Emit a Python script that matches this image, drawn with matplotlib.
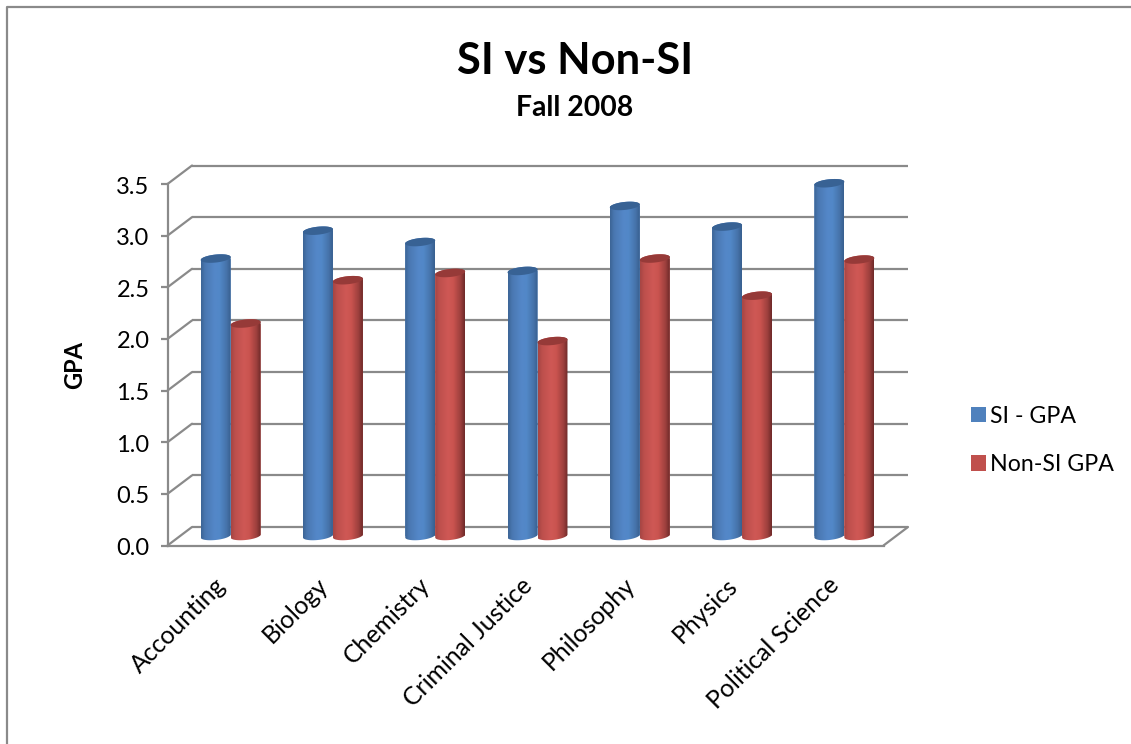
import numpy as np
import matplotlib
matplotlib.use('Agg')
import matplotlib.pyplot as plt
from matplotlib.lines import Line2D
from matplotlib.patches import ConnectionPatch, Patch, Polygon
from matplotlib.transforms import ScaledTranslation

plt.rcParams['font.family'] = ['Lato', 'DejaVu Sans']

W, H = 1131, 744

categories = ['Accounting', 'Biology', 'Chemistry', 'Criminal Justice',
              'Philosophy', 'Physics', 'Political Science']
si_gpa = [2.69, 2.96, 2.85, 2.57, 3.20, 3.00, 3.42]
non_si_gpa = [2.06, 2.48, 2.55, 1.89, 2.69, 2.33, 2.68]
y_ticks = [0.0, 0.5, 1.0, 1.5, 2.0, 2.5, 3.0, 3.5]

GRID = '#8a8a8a'
BLUE_STOPS = ['#3c6596', '#4a78b2', '#5487c8', '#5288c8', '#4673aa', '#38608f']
RED_STOPS = ['#a64644', '#bd4f4c', '#cf5855', '#c9534f', '#9c3f3d', '#6f2a29']
BLUE_TOP = '#386294'
RED_TOP = '#963a38'


# Axes placed in pixels, measured from the top left of the picture.
def placeAxes(left, right, top, bottom):
    a = fig.add_axes([left / W, 1 - bottom / H, (right - left) / W, (bottom - top) / H])
    a.set_xlim(0, 7)
    a.set_ylim(0, 3.5)
    a.patch.set_alpha(0)
    return a


def hexToRgb(c):
    return matplotlib.colors.to_rgb(c)


# One cylinder: the bar itself, a shaded body clipped to its outline, and the lid.
def drawCylinder(a, x, value, width, stops, top_color):
    t = np.linspace(0, np.pi, 40)
    r = width / 2
    ry = 4 / 103.3
    tilt = 1.5 / 103.3
    cx = x + r
    lower_x = cx - r * np.cos(t)
    lower_y = -ry * np.sin(t) - tilt * np.cos(t)
    upper_x = cx + r * np.cos(t)
    upper_y = value + ry * np.sin(t) + tilt * np.cos(t)
    outline = np.column_stack([np.r_[lower_x, upper_x], np.r_[lower_y, upper_y]])

    clip = Polygon(outline, closed=True, fc='none', ec='none', transform=a.transData)
    a.add_patch(clip)

    bar = a.bar(x, value, width, align='edge', color=stops[2], zorder=3)[0]
    bar.set_clip_path(clip)

    pos = np.array([0.0, 0.14, 0.45, 0.62, 0.86, 1.0])
    rgb = np.array([hexToRgb(c) for c in stops])
    u = np.linspace(0, 1, 64)
    shade = np.stack([np.interp(u, pos, rgb[:, i]) for i in range(3)], axis=1)[np.newaxis, :, :]
    im = a.imshow(shade, extent=[x, x + width, -ry * 2, value + ry * 2], aspect='auto',
                  interpolation='bilinear', zorder=4)
    # the lower rim hangs below the axes box, so only the outline may clip it
    im.set_clip_box(fig.bbox)
    im.set_clip_path(clip)

    lid_t = np.linspace(0, 2 * np.pi, 80)
    lid = np.column_stack([cx + r * np.cos(lid_t),
                           value + ry * np.sin(lid_t) + tilt * np.cos(lid_t)])
    a.add_patch(Polygon(lid, closed=True, fc=top_color, ec='none', zorder=5, clip_on=False))


fig = plt.figure(figsize=(W / 100, H / 100), dpi=100, facecolor='white')

# back wall, front plane and the plane the cylinders stand on
back = placeAxes(192, 908, 165.5, 527)
front = placeAxes(167.5, 883.5, 184, 545.5)
bars = placeAxes(179.5, 895.5, 175, 536)

back.axis('off')
back.hlines(y_ticks, 0, 7, color=GRID, lw=1.6, clip_on=False)

for s in ['top', 'right']:
    front.spines[s].set_visible(False)
for s in ['left', 'bottom']:
    front.spines[s].set_color(GRID)
    front.spines[s].set_linewidth(1.6)

front.set_yticks(y_ticks)
front.set_yticklabels([f'{v:.1f}' for v in y_ticks], fontsize=17)
front.tick_params(axis='y', length=5, width=1.6, color=GRID, pad=8)
for lab in front.get_yticklabels():
    lab.set_transform(lab.get_transform() + ScaledTranslation(0, -1 / 100, fig.dpi_scale_trans))
front.set_xticks(np.arange(len(categories)) + 0.5)
front.set_xticklabels(categories, fontsize=17.8, rotation=45, ha='right', rotation_mode='anchor')
front.tick_params(axis='x', length=0, pad=20)
for lab in front.get_xticklabels():
    lab.set_transform(lab.get_transform() + ScaledTranslation(-5 / 100, 0, fig.dpi_scale_trans))
front.set_ylabel('GPA', fontsize=17, fontweight='bold', labelpad=22)

# side wall and floor diagonals
for v in y_ticks:
    fig.add_artist(ConnectionPatch((0, v), (0, v), coordsA=front.transData, coordsB=back.transData,
                                   color=GRID, lw=1.6))
fig.add_artist(ConnectionPatch((7, 0), (7, 0), coordsA=front.transData, coordsB=back.transData,
                               color=GRID, lw=1.6))

bars.axis('off')
bar_w = 0.293
for i in range(len(categories)):
    drawCylinder(bars, i + 0.5 - bar_w, si_gpa[i], bar_w, BLUE_STOPS, BLUE_TOP)
    drawCylinder(bars, i + 0.5, non_si_gpa[i], bar_w, RED_STOPS, RED_TOP)
bars.set_xlim(0, 7)
bars.set_ylim(0, 3.5)

fig.text(575 / W, 1 - 61 / H, 'SI vs Non-SI', fontsize=31.3, fontweight='bold', ha='center', va='center')
fig.text(575 / W, 1 - 108.5 / H, 'Fall 2008', fontsize=20.4, fontweight='bold', ha='center', va='center')

fig.legend(handles=[Patch(fc='#4f81bd', lw=0, label='SI - GPA'), Patch(fc='#c0504d', lw=0, label='Non-SI GPA')],
           loc='upper left', bbox_to_anchor=(950 / W, 1 - 385 / H), frameon=False, fontsize=16.7,
           handlelength=0.65, handleheight=0.65, handletextpad=0.18, labelspacing=1.17, borderpad=0.4)

# chart border, only the left and top sides fall inside the picture
fig.add_artist(Line2D([6.5 / W, 6.5 / W, 1], [0, 1 - 6.5 / H, 1 - 6.5 / H], color=GRID, lw=1.6))

fig.savefig('out.png', dpi=100)
